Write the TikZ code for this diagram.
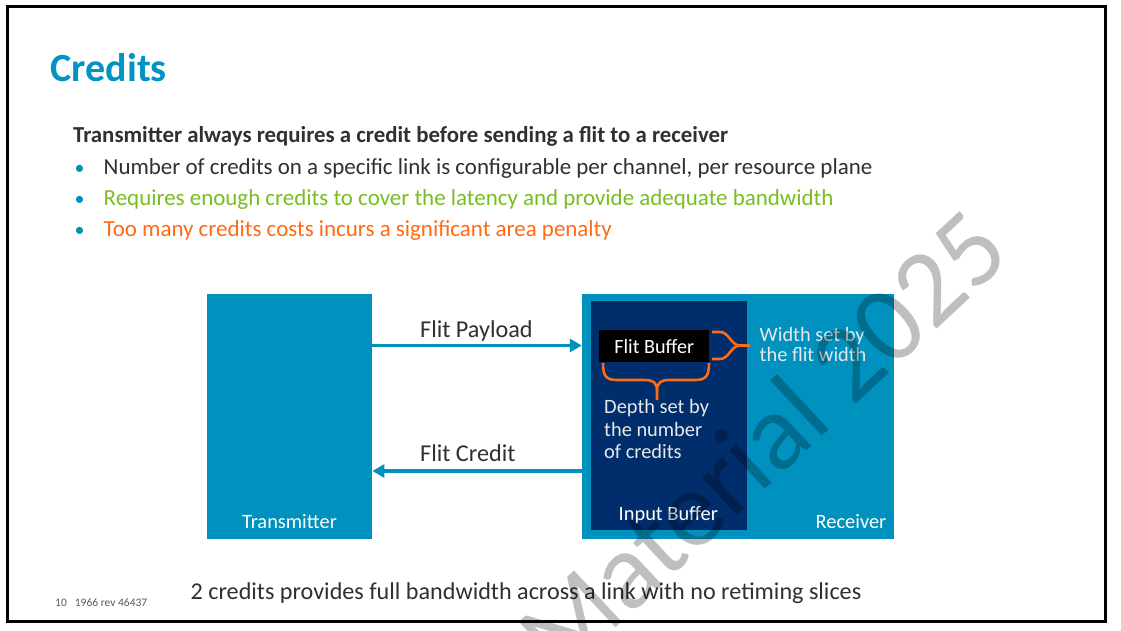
\documentclass[tikz,border=0pt]{standalone}
\usepackage{fontspec}
\setmainfont{Carlito}
\usetikzlibrary{arrows.meta}
\definecolor{acTeal}{HTML}{0091BE}
\definecolor{acTitle}{HTML}{0093C4}
\definecolor{acNavy}{HTML}{002D6B}
\definecolor{acDark}{HTML}{303030}
\definecolor{acGreen}{HTML}{78BE20}
\definecolor{acOrange}{HTML}{FF6A13}
\definecolor{acFoot}{HTML}{595959}
\definecolor{acLight}{HTML}{E8E8E8}
\begin{document}
\begin{tikzpicture}[x=1pt,y=-1pt,
  txt/.style={inner sep=0pt, anchor=base west},
  bodytxt/.style={txt, font=\fontsize{22.95}{27}\selectfont},
  dot/.style={txt, font=\fontsize{20}{24}\selectfont, text=acTeal},
  lbl/.style={txt, font=\fontsize{24.2}{29}\selectfont, text=acDark},
  inlbl/.style={txt, font=\fontsize{20.4}{24}\selectfont},
  box/.style={inner sep=0pt, draw=none, anchor=north west},
  arr/.style={draw=acTeal, line width=3.5pt, -{Triangle[length=12pt,width=13pt]}},
  bracepath/.style={draw=acOrange, line width=2.6pt, line join=round}]
\useasboundingbox (0,0) rectangle (1121,631);
\fill[white] (0,0) rectangle (1121,631);
\draw[line width=3pt] (7,7) rectangle (1105,621.5);

% title and text
\node[txt, font=\bfseries\fontsize{40}{48}\selectfont, text=acTitle] (title) at (50.5,81.7) {Credits};
\node[txt, font=\bfseries\fontsize{22.85}{27}\selectfont, text=acDark] (head) at (73,142.3)
  {Transmitter always requires a credit before sending a flit to a receiver};
\node[dot] (b1) at (74.5,175) {•};
\node[dot] (b2) at (74.5,205.7) {•};
\node[dot] (b3) at (74.5,236.7) {•};
\node[bodytxt, text=acDark] (l1) at (103.5,175) {Number of credits on a specific link is configurable per channel, per resource plane};
\node[bodytxt, text=acGreen] (l2) at (103.5,205.7) {Requires enough credits to cover the latency and provide adequate bandwidth};
\node[bodytxt, text=acOrange] (l3) at (103.5,236.7) {Too many credits costs incurs a significant area penalty};

% boxes
\node[box, fill=acTeal, minimum width=165pt, minimum height=244.3pt] (tx) at (207,294) {};
\node[box, fill=acTeal, minimum width=311.5pt, minimum height=244.3pt] (rx) at (581.8,294) {};
\node[box, fill=acNavy, minimum width=155.7pt, minimum height=228.6pt] (ib) at (591,300.7) {};
\node[box, fill=black, text=white, font=\fontsize{20.2}{24}\selectfont, minimum width=110pt, minimum height=32pt] (fb) at (599,330) {Flit Buffer};

\node[inlbl, anchor=base, text=white] (txl) at (289.5,528) {Transmitter};
\node[inlbl, text=white] (rxl) at (815.5,528.3) {Receiver};
\node[inlbl, text=white] (ibl) at (618.5,520) {Input Buffer};
\node[inlbl, text=acLight] (w1) at (759.5,341.7) {Width set by};
\node[inlbl, text=acLight] (w2) at (759.5,361.3) {the flit width};
\node[inlbl, text=acLight] (d1) at (604,413.3) {Depth set by};
\node[inlbl, text=acLight] (d2) at (604,436) {the number};
\node[inlbl, text=acLight] (d3) at (604,458.5) {of credits};

% braces
\draw[bracepath] (603,363) .. controls (603,376) and (606,380) .. (617,380) -- (644,380)
  .. controls (653,380) and (657,382) .. (657,391) -- (657,400);
\draw[bracepath] (709,363) .. controls (709,376) and (706,380) .. (695,380) -- (670,380)
  .. controls (661,380) and (657,382) .. (657,391);
\draw[bracepath] (712,332) -- (720,332) .. controls (729,332) and (731,345.5) .. (740,345.5) -- (750,345.5);
\draw[bracepath] (712,359) -- (720,359) .. controls (729,359) and (731,345.5) .. (740,345.5);

% connectors
\coordinate (yPay) at (0,345.5);
\coordinate (yCred) at (0,471);
\draw[arr] (tx.east |- yPay) -- (rx.west |- yPay);
\draw[arr] (rx.west |- yCred) -- (tx.east |- yCred);
\node[lbl] (pay) at (420,337) {Flit Payload};
\node[lbl] (cred) at (420,461.7) {Flit Credit};

% bottom
\node[txt, font=\fontsize{24.15}{29}\selectfont, text=acDark] (note) at (190.5,599.5)
  {2 credits provides full bandwidth across a link with no retiming slices};
\node[txt, font=\fontsize{11.5}{14}\selectfont, text=acFoot] (foot) at (55,606) {10\hspace{8pt}1966 rev 46437};

% watermark
\node[inner sep=0pt, rotate=43, text=black, text opacity=0.25, font=\fontsize{109}{120}\selectfont] (wm) at (762,441) {Material 2025};
\end{tikzpicture}
\end{document}
